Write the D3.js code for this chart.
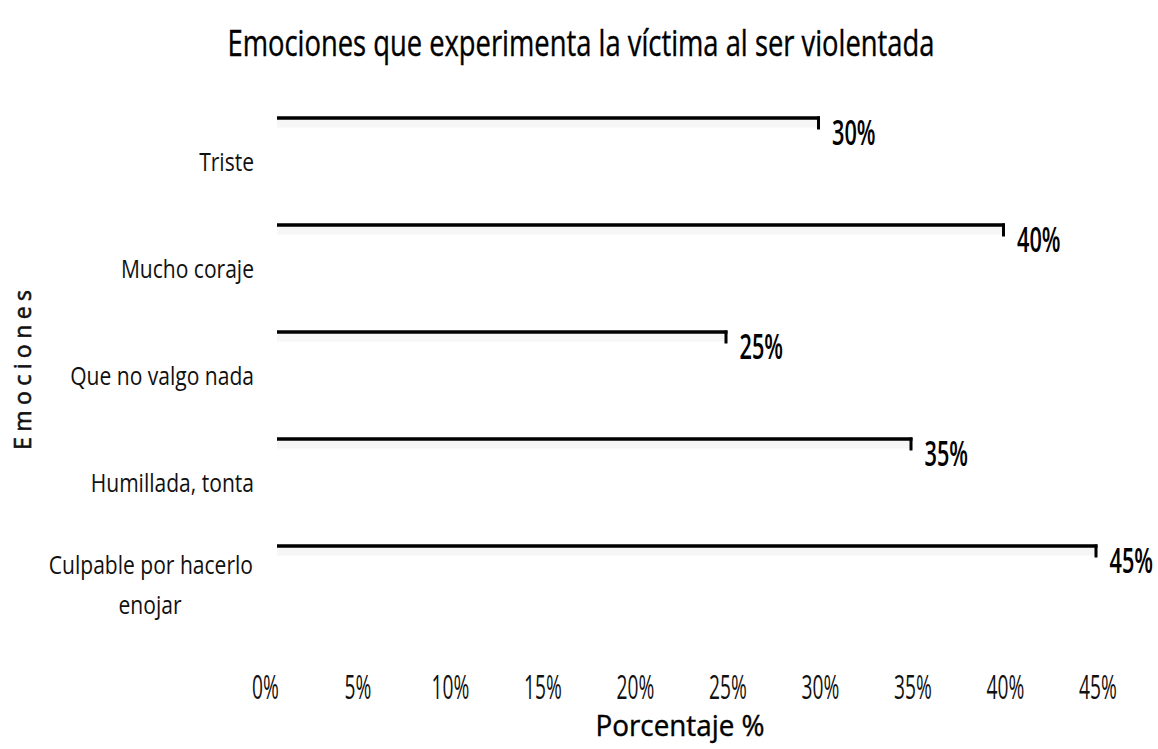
<!DOCTYPE html>
<html>
<head>
<meta charset="utf-8">
<script src="https://cdn.jsdelivr.net/npm/d3@7"></script>
<style>
  html, body { margin: 0; padding: 0; background: #fff; }
  svg { display: block; }
  text { font-family: "Open Sans", "Liberation Sans", sans-serif; }
</style>
</head>
<body>
<svg id="chart" width="1158" height="749"></svg>
<script>
const categories = ["Triste", "Mucho coraje", "Que no valgo nada", "Humillada, tonta", "Culpable por hacerlo enojar"];
const categoryLines = [["Triste"], ["Mucho coraje"], ["Que no valgo nada"], ["Humillada, tonta"], ["Culpable por hacerlo", "enojar"]];
const values = [30, 40, 25, 35, 45];
const valueLabels = ["30%", "40%", "25%", "35%", "45%"];
const tickValues = [0, 5, 10, 15, 20, 25, 30, 35, 40, 45];
const tickLabels = ["0%", "5%", "10%", "15%", "20%", "25%", "30%", "35%", "40%", "45%"];
const title = "Emociones que experimenta la víctima al ser violentada";
const xTitle = "Porcentaje %";
const yTitle = "Emociones";

const svg = d3.select("#chart");

const x = d3.scaleLinear().domain([0, 45]).range([265, 1097.5]);
const y = d3.scaleBand().domain(categories).range([106.5, 641.5]).padding(0);

function ctext(parent, px, py, sx, str) {
  return parent.append("text")
    .attr("transform", `translate(${px},${py}) scale(${sx},1)`)
    .text(str);
}

// Title
svg.append("text")
  .attr("x", 581).attr("y", 56)
  .attr("text-anchor", "middle")
  .attr("font-size", 36)
  .attr("fill", "#000")
  .attr("stroke", "#000")
  .attr("stroke-width", 0.4)
  .attr("textLength", 707)
  .attr("lengthAdjust", "spacingAndGlyphs")
  .text(title);

// Bars
const barStartOffset = 12;
const barH = 11;
const g = svg.append("g");
categories.forEach((c, i) => {
  const top = y(c) + 10;
  const x0 = x(0) + barStartOffset;
  const x1 = x(values[i]);
  g.append("rect")
    .attr("x", x0).attr("y", top)
    .attr("width", x1 - x0).attr("height", barH)
    .attr("fill", "#f6f6f6");
  g.append("line")
    .attr("x1", x0).attr("x2", x1)
    .attr("y1", top + 1.5).attr("y2", top + 1.5)
    .attr("stroke", "#000").attr("stroke-width", 3.5);
  g.append("line")
    .attr("x1", x1 - 1.5).attr("x2", x1 - 1.5)
    .attr("y1", top).attr("y2", top + barH + 2)
    .attr("stroke", "#000").attr("stroke-width", 3);
  ctext(g, x1 + 12, top + 28, 0.62, valueLabels[i])
    .attr("font-size", 35)
    .attr("font-weight", 600)
    .attr("fill", "#000");
});

// Category labels
const catFont = 26, catScale = 0.81;
categories.forEach((c, i) => {
  const cy = y(c) + y.bandwidth() / 2;
  const lines = categoryLines[i];
  if (lines.length === 1) {
    ctext(svg, 254, cy + 11, catScale, lines[0])
      .attr("text-anchor", "end")
      .attr("font-size", catFont)
      .attr("fill", "#111");
  } else {
    ctext(svg, 253, cy - 14, catScale, lines[0])
      .attr("text-anchor", "end")
      .attr("font-size", catFont)
      .attr("fill", "#111");
    ctext(svg, 150, cy + 26, catScale, lines[1])
      .attr("text-anchor", "middle")
      .attr("font-size", catFont)
      .attr("fill", "#111");
  }
});

// X axis tick labels
const xAxis = d3.axisBottom(x)
  .tickValues(tickValues)
  .tickFormat((d, i) => tickLabels[i])
  .tickSize(0)
  .tickPadding(0);
const ax = svg.append("g").attr("transform", "translate(0,699)").call(xAxis);
ax.select(".domain").remove();
ax.selectAll("text")
  .attr("dy", 0)
  .attr("y", 0)
  .attr("transform", "scale(0.6,1)")
  .attr("font-family", "'Open Sans', sans-serif")
  .attr("font-size", 32)
  .attr("font-weight", 400)
  .attr("fill", "#111");

// Axis titles
svg.append("text")
  .attr("x", 680).attr("y", 736)
  .attr("text-anchor", "middle")
  .attr("font-size", 29)
  .attr("fill", "#000")
  .attr("stroke", "#000")
  .attr("stroke-width", 0.4)
  .attr("textLength", 169)
  .attr("lengthAdjust", "spacingAndGlyphs")
  .text(xTitle);

svg.append("text")
  .attr("transform", "translate(31,370) rotate(-90)")
  .attr("text-anchor", "middle")
  .attr("font-family", "'DejaVu Sans', sans-serif")
  .attr("font-size", 23)
  .attr("fill", "#111")
  .attr("stroke", "#111")
  .attr("stroke-width", 0.6)
  .attr("textLength", 160)
  .attr("lengthAdjust", "spacing")
  .text(yTitle);
</script>
</body>
</html>
